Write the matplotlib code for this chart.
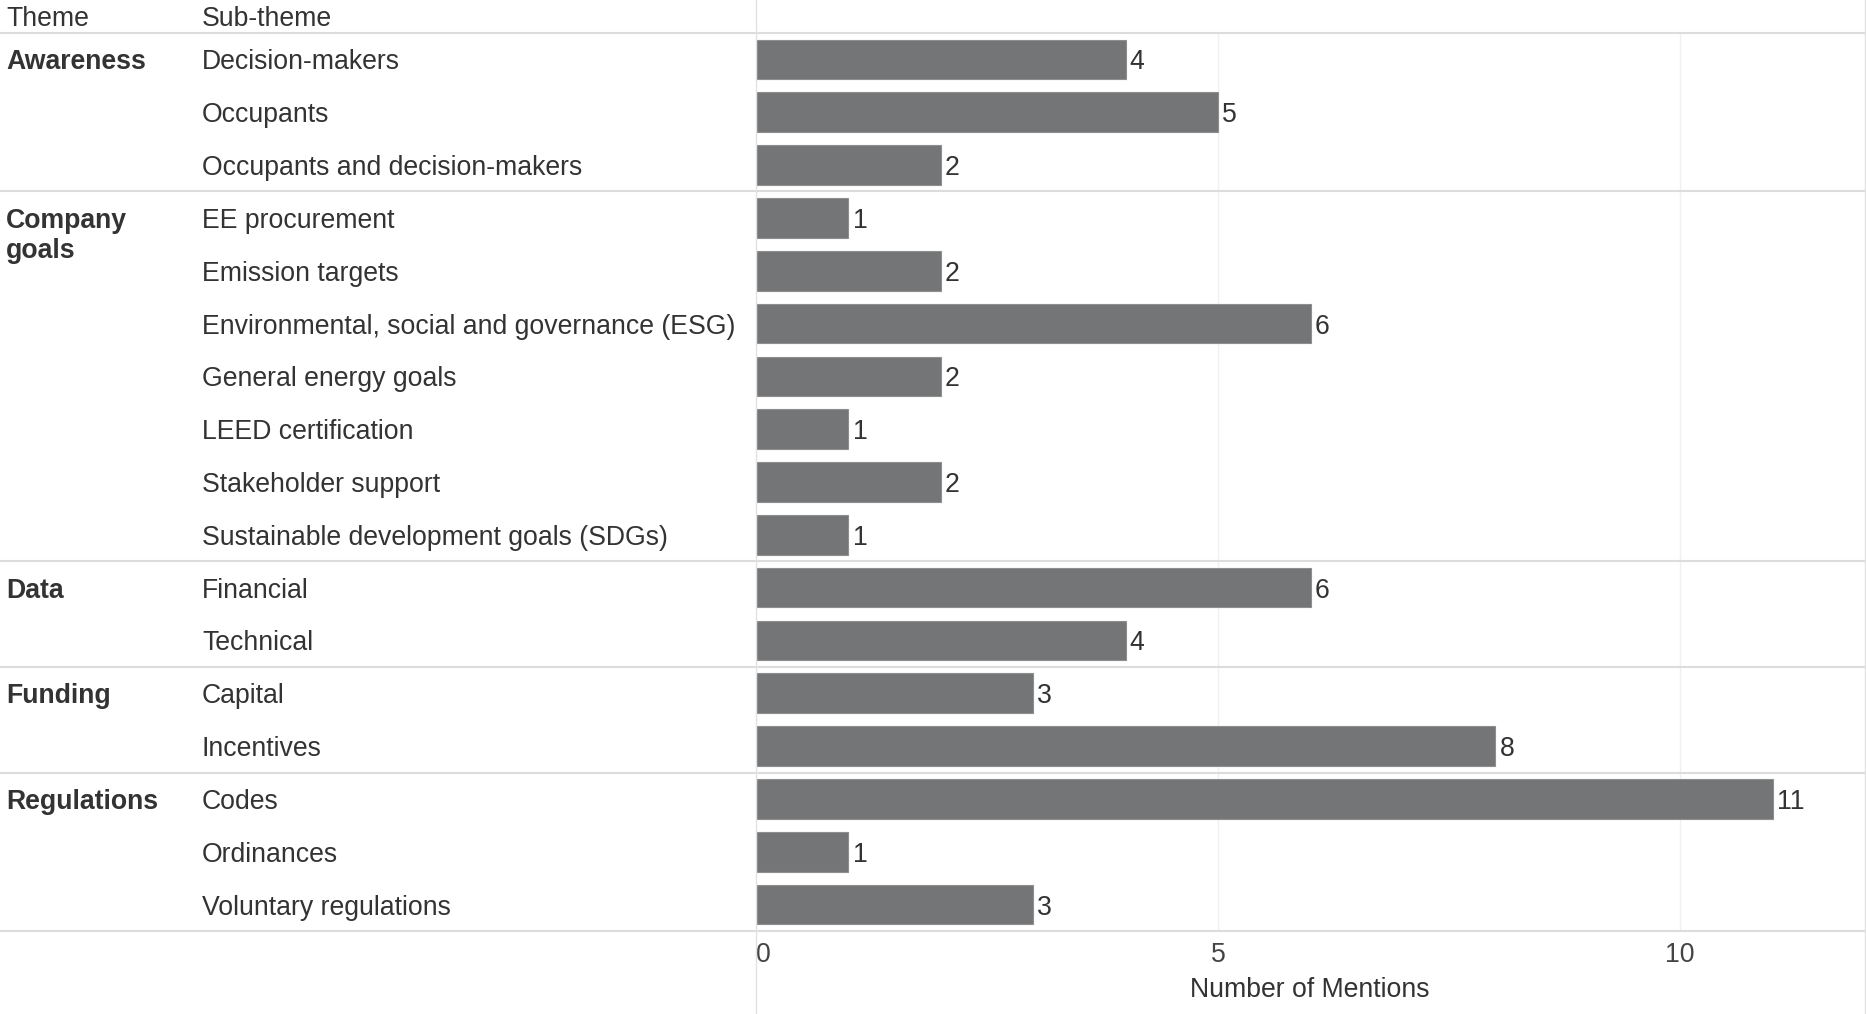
import matplotlib.pyplot as plt
from matplotlib.lines import Line2D
from matplotlib.transforms import blended_transform_factory

plt.rcParams['font.family'] = ['Liberation Sans', 'DejaVu Sans']

themes = ['Awareness', 'Company\ngoals', 'Data', 'Funding', 'Regulations']
group_sizes = [3, 7, 2, 2, 3]
sub_themes = [
    'Decision-makers', 'Occupants', 'Occupants and decision-makers',
    'EE procurement', 'Emission targets', 'Environmental, social and governance (ESG)',
    'General energy goals', 'LEED certification', 'Stakeholder support',
    'Sustainable development goals (SDGs)',
    'Financial', 'Technical',
    'Capital', 'Incentives',
    'Codes', 'Ordinances', 'Voluntary regulations',
]
mentions = [4, 5, 2, 1, 2, 6, 2, 1, 2, 1, 6, 4, 3, 8, 11, 1, 3]
x_ticks = [0, 5, 10]

W, H = 1866, 1014
FS = 19.2
TXT = '#333333'
LINE = '#dcdcdc'

fig = plt.figure(figsize=(W / 100, H / 100), dpi=100)
ax = fig.add_axes([756 / W, 1 - 931 / H, (1865 - 756) / W, (931 - 33) / H])

rows = list(range(len(sub_themes)))
ax.barh(rows, mentions, height=0.75, color='#747577', edgecolor='#8e8e8e', linewidth=0.8, zorder=2)
for i, v in enumerate(mentions):
    ax.annotate(str(v), (v, i), xytext=(3, 0), textcoords='offset points',
                va='center_baseline', ha='left', fontsize=FS, color=TXT)

ax.set_xlim(0, 12)
ax.set_ylim(len(sub_themes) - 0.5, -0.5)
for s in ax.spines.values():
    s.set_visible(False)
ax.set_yticks([])
ax.set_xticks(x_ticks)
ax.set_xticklabels([str(t) for t in x_ticks])
ax.tick_params(axis='x', length=0, pad=8, labelsize=FS, labelcolor='#444444')
ax.get_xticklabels()[0].set_ha('left')
for t in x_ticks[1:]:
    ax.axvline(t, color='#f0f0f0', lw=1, zorder=0)

fig.text(1310 / W, 1 - 990 / H, 'Number of Mentions', ha='center', va='center',
         fontsize=FS, color=TXT)

# left-hand table
trans = blended_transform_factory(fig.transFigure, ax.transData)
fig.text(6 / W, 1 - 19 / H, 'Theme', ha='left', va='center', fontsize=FS, color=TXT)
fig.text(202 / W, 1 - 19 / H, 'Sub-theme', ha='left', va='center', fontsize=FS, color=TXT)

for i, name in enumerate(sub_themes):
    ax.text(202 / W, i, name, transform=trans, ha='left', va='center_baseline',
            fontsize=FS, color=TXT)

start = 0
seps = [-0.5]
for name, n in zip(themes, group_sizes):
    for k, part in enumerate(name.split('\n')):
        ax.text(6 / W, start + k * 0.565, part, transform=trans, ha='left',
                va='center_baseline', fontsize=FS, fontweight='bold', color=TXT)
    start += n
    seps.append(start - 0.5)

for y in seps:
    fig.add_artist(Line2D([0, 1], [y, y], transform=trans, color=LINE, lw=1.5))

fig.add_artist(Line2D([756 / W, 756 / W], [0, 1], transform=fig.transFigure, color='#e2e2e2', lw=1))
fig.add_artist(Line2D([1865 / W, 1865 / W], [0, 1], transform=fig.transFigure, color='#e2e2e2', lw=1))

fig.savefig('out.png', dpi=100, facecolor='white')
